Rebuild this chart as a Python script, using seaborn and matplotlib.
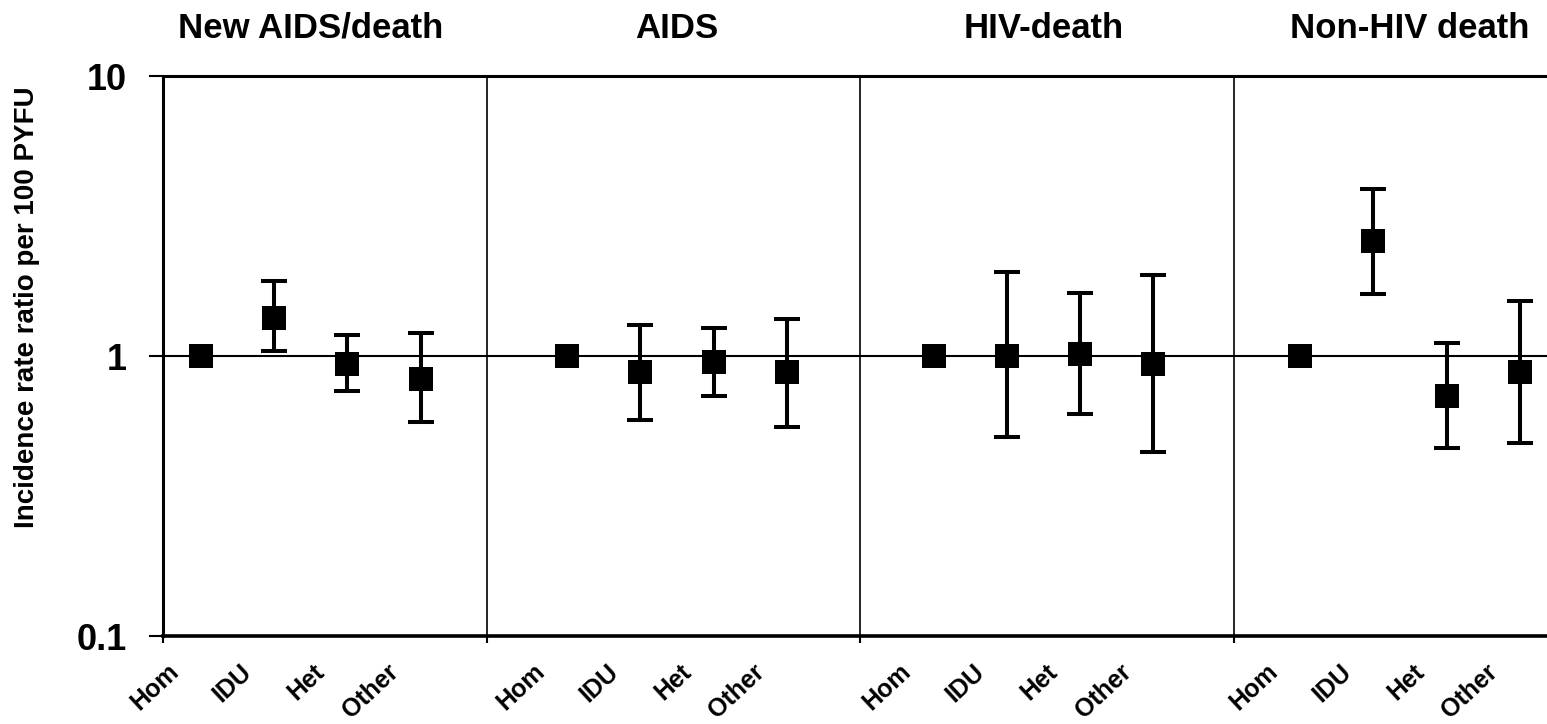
import numpy as np
import pandas as pd
import matplotlib
matplotlib.use("Agg")
import matplotlib.pyplot as plt
import seaborn as sns
from matplotlib.ticker import NullLocator
from matplotlib.transforms import ScaledTranslation, blended_transform_factory

# ---------------- data ----------------
outcomes = ["New AIDS/death", "AIDS", "HIV-death", "Non-HIV death"]
groups = ["Hom", "IDU", "Het", "Other"]

irr_new_aids_death = [1.0, 1.37, 0.935, 0.83]
lo_new_aids_death = [np.nan, 1.04, 0.75, 0.58]
hi_new_aids_death = [np.nan, 1.85, 1.19, 1.21]

irr_aids = [1.0, 0.877, 0.95, 0.877]
lo_aids = [np.nan, 0.59, 0.72, 0.556]
hi_aids = [np.nan, 1.29, 1.26, 1.36]

irr_hiv_death = [1.0, 1.0, 1.02, 0.935]
lo_hiv_death = [np.nan, 0.515, 0.62, 0.455]
hi_hiv_death = [np.nan, 1.99, 1.68, 1.95]

irr_non_hiv_death = [1.0, 2.57, 0.72, 0.88]
lo_non_hiv_death = [np.nan, 1.66, 0.47, 0.49]
hi_non_hiv_death = [np.nan, 3.95, 1.11, 1.57]

y_ticks = [0.1, 1, 10]
y_tick_labels = ["0.1", "1", "10"]
y_label = "Incidence rate ratio per 100 PYFU"

series = [
    (irr_new_aids_death, lo_new_aids_death, hi_new_aids_death),
    (irr_aids, lo_aids, hi_aids),
    (irr_hiv_death, lo_hiv_death, hi_hiv_death),
    (irr_non_hiv_death, lo_non_hiv_death, hi_non_hiv_death),
]

rows = []
for oi, (irr, lo, hi) in enumerate(series):
    for gi, g in enumerate(groups):
        rows.append(dict(outcome=outcomes[oi], group=g, pos=oi * 5 + gi,
                         irr=irr[gi], lo=lo[gi], hi=hi[gi]))
df = pd.DataFrame(rows)

# ---------------- style ----------------
sns.set_theme(style="white")
plt.rcParams["font.family"] = ["Liberation Sans", "DejaVu Sans"]
plt.rcParams["font.weight"] = "bold"
for k in ["text.color", "axes.labelcolor", "xtick.color", "ytick.color", "axes.edgecolor"]:
    plt.rcParams[k] = "black"

W, H = 1547, 724
fig = plt.figure(figsize=(W / 100, H / 100), dpi=100)
ax = fig.add_axes([163 / W, 88 / H, (W - 163) / W, 560 / H])

# error bars
ci = df.dropna()
ax.errorbar(ci["pos"], ci["irr"],
            yerr=[ci["irr"] - ci["lo"], ci["hi"] - ci["irr"]],
            fmt="none", ecolor="black", elinewidth=2.9,
            capsize=9.7, capthick=2.9, zorder=2)

sns.scatterplot(data=df, x="pos", y="irr", marker="s", s=300, color="black",
                edgecolor="none", linewidth=0, ax=ax, zorder=3, legend=False)

ax.set_yscale("log")
ax.set_ylim(0.1, 10)
ax.set_yticks(y_ticks)
ax.set_yticklabels(y_tick_labels, fontsize=26, fontweight="bold", color="black")
ax.yaxis.set_minor_locator(NullLocator())
ax.tick_params(axis="y", which="major", length=10, width=1.5, pad=16,
               direction="out", left=True, colors="black")

xmin, xmax = -0.514, 18.37
ax.set_xlim(xmin, xmax)
seps = [3.906, 8.995, 14.097]

ax.axhline(1, color="black", lw=1.5, zorder=1)
for s in seps:
    ax.axvline(s, color="black", lw=1.2, zorder=1)

ax.set_xticks(df["pos"])
ax.set_xticklabels(df["group"], fontsize=18, fontweight="bold", color="black",
                   rotation=43, ha="right", va="top", rotation_mode="anchor")
ax.tick_params(axis="x", which="major", length=0, pad=17)
ax.set_xticks([xmin] + seps, minor=True)
ax.tick_params(axis="x", which="minor", length=5, width=1.5, direction="out",
               bottom=True, colors="black")
off = ScaledTranslation(-34 / 100, 0, fig.dpi_scale_trans)
for lab in ax.get_xticklabels():
    lab.set_transform(lab.get_transform() + off)

ax.set_xlabel("")
ax.set_ylabel("")

for side, lw in [("left", 2.2), ("bottom", 2.6), ("top", 2.2)]:
    ax.spines[side].set_visible(True)
    ax.spines[side].set_linewidth(lw)
    ax.spines[side].set_color("black")
ax.spines["right"].set_visible(False)

# outcome titles
tr = blended_transform_factory(ax.transData, ax.transAxes)
for oi, name in enumerate(outcomes):
    cx = df.loc[df["outcome"] == name, "pos"].mean()
    ax.text(cx, 1 + 48 / 560, name, transform=tr, ha="center", va="center",
            fontsize=25, fontweight="bold", color="black", clip_on=False)

fig.text(27 / W, 1 - 307 / H, y_label, rotation=90, ha="center", va="center",
         fontsize=20, fontweight="bold", color="black")

fig.savefig("out.png", dpi=100, facecolor="white")
